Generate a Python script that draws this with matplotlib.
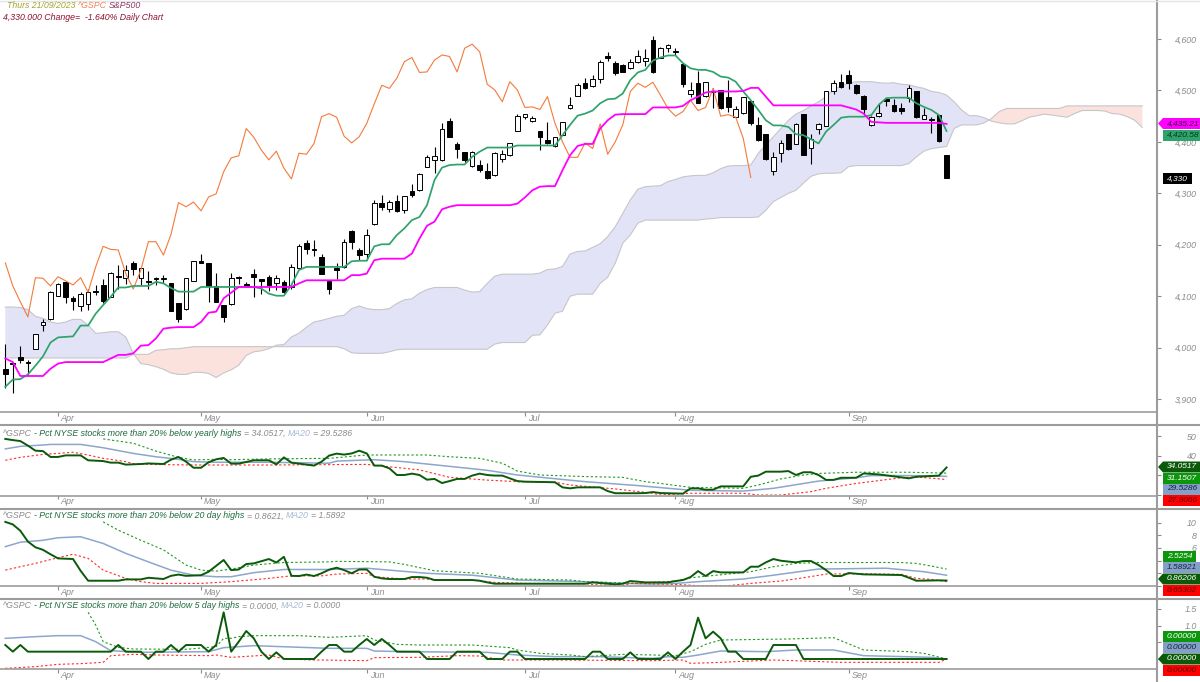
import numpy as np
from matplotlib import pyplot as plt
from matplotlib.patches import Polygon, Rectangle

plt.rcParams['font.family'] = ['Liberation Sans', 'DejaVu Sans']
plt.rcParams['font.style'] = 'italic'

# month ticks, in trading bars from the first candle
month_pos = [7, 26, 48, 69, 89, 112]
month_names = ['Apr', 'May', 'Jun', 'Jul', 'Aug', 'Sep']

opens = [3958, 3971, 3982, 3973, 3998, 4044, 4055, 4100, 4127, 4096,
         4081, 4085, 4110, 4122, 4099, 4140, 4135, 4164, 4136, 4130,
         4135, 4133, 4125, 4086, 4076, 4129, 4168, 4164, 4120, 4083,
         4085, 4138, 4123, 4143, 4133, 4138, 4126, 4127, 4118, 4155,
         4204, 4192, 4177, 4129, 4155, 4156, 4227, 4190, 4182, 4240,
         4282, 4269, 4285, 4267, 4305, 4306, 4352, 4365, 4365, 4441,
         4396, 4380, 4353, 4355, 4343, 4335, 4367, 4374, 4422, 4449,
         4440, 4422, 4404, 4392, 4413, 4465, 4490, 4515, 4509, 4522,
         4566, 4554, 4549, 4543, 4555, 4558, 4598, 4564, 4583, 4577,
         4551, 4494, 4514, 4489, 4499, 4501, 4487, 4449, 4457, 4479,
         4433, 4415, 4344, 4379, 4415, 4396, 4455, 4389, 4426, 4431,
         4498, 4516, 4530, 4510, 4490, 4432, 4451, 4483, 4472, 4466,
         4486, 4498, 4444, 4444, 4452, 4374]
closes = [3948, 3968, 3976, 3970, 4027, 4050, 4109, 4123, 4099, 4090,
          4105, 4109, 4108, 4090, 4146, 4138, 4151, 4153, 4154, 4127,
          4133, 4136, 4072, 4055, 4135, 4169, 4165, 4120, 4089, 4060,
          4136, 4135, 4120, 4138, 4130, 4122, 4136, 4108, 4157, 4197,
          4191, 4190, 4144, 4114, 4151, 4206, 4206, 4180, 4220, 4281,
          4273, 4284, 4266, 4295, 4297, 4337, 4370, 4372, 4426, 4409,
          4387, 4365, 4381, 4345, 4329, 4378, 4376, 4397, 4450, 4455,
          4446, 4410, 4397, 4409, 4439, 4472, 4510, 4504, 4522, 4555,
          4563, 4533, 4536, 4555, 4567, 4564, 4536, 4582, 4589, 4575,
          4512, 4501, 4476, 4517, 4497, 4465, 4467, 4463, 4488, 4436,
          4404, 4367, 4370, 4398, 4386, 4435, 4375, 4405, 4435, 4498,
          4514, 4506, 4515, 4496, 4463, 4449, 4457, 4480, 4460, 4461,
          4504, 4449, 4453, 4442, 4402, 4330]
highs = [4007, 3972, 4003, 3976, 4027, 4055, 4110, 4125, 4128, 4100,
         4109, 4115, 4122, 4133, 4147, 4160, 4160, 4168, 4157, 4149,
         4138, 4141, 4125, 4086, 4136, 4169, 4183, 4164, 4146, 4083,
         4146, 4139, 4128, 4153, 4133, 4141, 4141, 4131, 4162, 4201,
         4210, 4209, 4183, 4129, 4164, 4212, 4229, 4193, 4230, 4287,
         4297, 4287, 4297, 4295, 4319, 4339, 4374, 4391, 4437, 4446,
         4400, 4381, 4382, 4365, 4359, 4381, 4384, 4398, 4455, 4455,
         4450, 4422, 4439, 4410, 4439, 4487, 4515, 4525, 4530, 4560,
         4575, 4558, 4551, 4562, 4579, 4580, 4605, 4584, 4590, 4582,
         4551, 4517, 4538, 4517, 4504, 4501, 4520, 4470, 4488, 4479,
         4448, 4416, 4381, 4404, 4416, 4436, 4455, 4415, 4437, 4499,
         4520, 4532, 4540, 4512, 4491, 4450, 4475, 4486, 4483, 4475,
         4510, 4498, 4465, 4449, 4453, 4374]
lows = [3921, 3911, 3970, 3946, 3998, 4033, 4053, 4100, 4086, 4073,
        4072, 4073, 4102, 4087, 4098, 4115, 4123, 4141, 4122, 4115,
        4122, 4125, 4072, 4050, 4074, 4129, 4165, 4089, 4089, 4050,
        4083, 4123, 4118, 4099, 4104, 4110, 4113, 4107, 4114, 4154,
        4182, 4179, 4143, 4104, 4133, 4155, 4191, 4170, 4171, 4238,
        4267, 4264, 4264, 4262, 4293, 4305, 4352, 4339, 4363, 4409,
        4368, 4361, 4352, 4342, 4328, 4334, 4361, 4372, 4422, 4444,
        4439, 4385, 4396, 4391, 4413, 4464, 4489, 4502, 4507, 4515,
        4558, 4530, 4535, 4542, 4554, 4547, 4533, 4563, 4574, 4569,
        4507, 4488, 4475, 4488, 4465, 4463, 4459, 4448, 4455, 4433,
        4402, 4365, 4335, 4361, 4384, 4396, 4375, 4357, 4415, 4430,
        4494, 4505, 4502, 4494, 4452, 4431, 4449, 4470, 4459, 4454,
        4478, 4447, 4444, 4418, 4400, 4330]

tenkan = [3924, 3938, 3939, 3948, 3965, 3983, 4010, 4020, 4021, 4022,
          4043, 4043, 4066, 4083, 4099, 4117, 4117, 4120, 4120, 4120,
          4128, 4125, 4116, 4109, 4109, 4109, 4118, 4118, 4118, 4118,
          4118, 4118, 4118, 4118, 4115, 4105, 4101, 4101, 4122, 4151,
          4157, 4157, 4157, 4157, 4157, 4157, 4168, 4169, 4169, 4197,
          4201, 4201, 4219, 4232, 4248, 4254, 4277, 4326, 4350, 4355,
          4356, 4356, 4371, 4381, 4389, 4389, 4389, 4389, 4393, 4393,
          4393, 4393, 4393, 4393, 4413, 4433, 4451, 4455, 4461, 4475,
          4483, 4484, 4494, 4520, 4535, 4540, 4558, 4564, 4568, 4568,
          4553, 4543, 4540, 4540, 4536, 4527, 4525, 4517, 4498, 4481,
          4462, 4442, 4432, 4432, 4429, 4415, 4413, 4405, 4397, 4420,
          4433, 4447, 4449, 4449, 4449, 4452, 4472, 4485, 4486, 4486,
          4486, 4475, 4468, 4462, 4452, 4421]
kijun = [3979, 3972, 3945, 3945, 3945, 3945, 3959, 3969, 3972, 3972,
         3972, 3972, 3972, 3972, 3979, 3986, 3986, 3989, 4004, 4005,
         4018, 4037, 4039, 4040, 4040, 4040, 4050, 4068, 4070, 4096,
         4107, 4118, 4118, 4118, 4118, 4118, 4118, 4118, 4118, 4125,
         4131, 4131, 4131, 4131, 4131, 4131, 4141, 4141, 4144, 4170,
         4173, 4173, 4173, 4173, 4183, 4212, 4237, 4245, 4269, 4274,
         4277, 4277, 4277, 4277, 4277, 4277, 4277, 4277, 4280, 4292,
         4306, 4313, 4314, 4314, 4345, 4374, 4392, 4396, 4396, 4426,
         4442, 4453, 4454, 4454, 4454, 4454, 4467, 4467, 4467, 4467,
         4470, 4481, 4488, 4496, 4498, 4498, 4498, 4498, 4499, 4505,
         4505, 4488, 4471, 4471, 4471, 4471, 4471, 4471, 4471, 4471,
         4471, 4471, 4467, 4463, 4455, 4439, 4438, 4437, 4437, 4437,
         4437, 4437, 4437, 4437, 4437, 4435]
chikou = [4165, 4120, 4089, 4060, 4136, 4135, 4120, 4138, 4130, 4122,
          4136, 4108, 4157, 4197, 4191, 4190, 4144, 4114, 4151, 4206,
          4206, 4180, 4220, 4282, 4274, 4283, 4266, 4293, 4299, 4342,
          4369, 4373, 4426, 4409, 4384, 4365, 4382, 4349, 4328, 4378,
          4376, 4397, 4449, 4455, 4448, 4411, 4398, 4410, 4436, 4474,
          4510, 4504, 4524, 4556, 4564, 4535, 4536, 4559, 4569, 4566,
          4536, 4582, 4590, 4575, 4512, 4501, 4478, 4517, 4501, 4467,
          4468, 4463, 4488, 4436, 4400, 4370, 4370, 4398, 4387, 4435,
          4376, 4400, 4433, 4498, 4514, 4506, 4516, 4491, 4465, 4450,
          4459, 4481, 4461, 4467, 4504, 4450, 4453, 4448, 4407, 4331]

span_a = [4079, 4079, 4078, 4074, 4061, 4057, 4050, 4047, 4050, 4055,
          4055, 4044, 4028, 4029, 4031, 4031, 4021, 3989, 3969, 3967,
          3963, 3958, 3951, 3948, 3948, 3952, 3952, 3950, 3942, 3951,
          3957, 3966, 3985, 3992, 3994, 3998, 4005, 4006, 4021, 4028,
          4040, 4050, 4053, 4057, 4061, 4063, 4076, 4081, 4076, 4074,
          4074, 4076, 4086, 4093, 4095, 4106, 4113, 4117, 4117, 4117,
          4117, 4112, 4108, 4109, 4125, 4139, 4143, 4143, 4143, 4143,
          4143, 4145, 4152, 4153, 4158, 4182, 4187, 4188, 4195, 4202,
          4216, 4235, 4261, 4287, 4308, 4313, 4314, 4315, 4323, 4327,
          4332, 4334, 4335, 4335, 4340, 4348, 4353, 4354, 4354, 4355,
          4378, 4394, 4410, 4426, 4442, 4454, 4461, 4470, 4478, 4488,
          4502, 4509, 4514, 4517, 4517, 4517, 4515, 4514, 4515, 4512,
          4511, 4507, 4504, 4498, 4496, 4491, 4478, 4462, 4451, 4451,
          4447, 4440, 4437, 4435, 4435, 4441, 4448, 4451, 4454, 4452,
          4450, 4448, 4455, 4461, 4461, 4461, 4460, 4455, 4454, 4449,
          4442, 4428]
span_b = [3980, 3980, 3980, 3980, 3980, 3980, 3980, 3980, 3980, 3980,
          3980, 3980, 3980, 3980, 3980, 3980, 3980, 3987, 3987, 3987,
          3995, 3996, 3998, 3998, 4000, 4002, 4002, 4002, 4002, 4002,
          4002, 4002, 4002, 4002, 4002, 4002, 4002, 4002, 4002, 4002,
          4002, 4002, 4002, 4002, 4002, 3998, 3990, 3989, 3989, 3989,
          3989, 3992, 3996, 3997, 3997, 3997, 3997, 3997, 3997, 3997,
          3997, 3997, 3997, 3997, 3997, 4007, 4010, 4010, 4010, 4010,
          4024, 4025, 4044, 4067, 4071, 4100, 4104, 4104, 4104, 4125,
          4137, 4164, 4203, 4219, 4242, 4248, 4248, 4248, 4248, 4248,
          4248, 4248, 4248, 4250, 4251, 4253, 4253, 4253, 4253, 4253,
          4254, 4267, 4284, 4292, 4300, 4306, 4320, 4333, 4338, 4339,
          4339, 4340, 4352, 4354, 4354, 4354, 4354, 4354, 4354, 4354,
          4358, 4371, 4382, 4387, 4389, 4391, 4426, 4433, 4433, 4433,
          4437, 4446, 4459, 4465, 4465, 4465, 4465, 4465, 4465, 4465,
          4465, 4470, 4470, 4470, 4470, 4470, 4470, 4470, 4470, 4470,
          4470, 4470]

# yearly highs pane
y_line_x = [0, 1, 2, 3, 4, 5, 6, 7, 8, 10, 11, 13, 14, 15, 16, 18, 19, 21, 22, 23, 24, 25, 26, 27, 28, 29, 30, 31, 33, 35,
            36, 37, 38, 39, 40, 41, 42, 43, 44, 45, 46, 47, 48, 49, 50, 51, 52, 53, 54, 55, 56, 57, 58, 59, 60, 61, 62, 63,
            64, 65, 66, 67, 68, 69, 73, 74, 75, 76, 79, 80, 81, 84, 85, 86, 87, 90, 91, 92, 93, 94, 95, 98, 99, 100, 101,
            103, 104, 105, 106, 107, 108, 109, 110, 111, 113, 114, 116, 120, 121, 123, 124, 125]
y_line = [48.6, 48.0, 47.5, 45.2, 42.6, 42.4, 39.4, 39.4, 40.2, 40.2, 37.7, 37.3, 36.5, 36.5, 35.5, 35.8, 36.1, 35.8, 38.0, 39.4,
          37.0, 33.9, 33.9, 36.7, 38.2, 38.9, 36.0, 36.0, 37.7, 37.7, 35.6, 39.2, 36.5, 36.0, 35.5, 35.0, 37.0, 40.1, 41.1, 40.6,
          41.2, 42.6, 41.2, 35.0, 35.0, 33.6, 30.2, 30.2, 30.9, 30.2, 27.8, 28.2, 26.1, 27.1, 28.2, 28.2, 29.9, 30.9, 30.2, 29.9,
          29.9, 28.5, 27.1, 26.8, 26.5, 23.9, 23.4, 23.9, 23.9, 22.0, 20.9, 20.9, 21.0, 21.5, 21.0, 20.7, 23.4, 23.4, 22.7, 22.7,
          24.4, 24.4, 29.3, 29.9, 31.9, 31.9, 32.2, 30.2, 31.6, 31.6, 30.2, 27.7, 27.7, 28.8, 28.8, 31.0, 30.5, 28.5, 29.3, 29.7,
          29.9, 34.05]
y_ma_x = [0, 2, 5, 6, 10, 13, 17, 20, 23, 25, 28, 35, 43, 44, 49, 53, 58, 64, 68, 77, 84, 89, 91, 98, 102, 108, 113, 115, 120, 125]
y_ma = [43.5, 44.8, 45.5, 45.8, 45.8, 44.1, 41.2, 39.5, 38.2, 37.0, 36.7, 36.7, 36.2, 37.3, 38.0, 37.0, 35.0, 32.6, 30.2, 26.8,
        24.8, 23.1, 22.4, 22.0, 23.4, 27.1, 28.8, 29.9, 29.9, 29.5]
y_low_x = [0, 2, 5, 7, 9, 11, 13, 16, 17, 19, 25, 35, 48, 51, 55, 59, 64, 68, 73, 75, 81, 86, 87, 91, 98, 100, 103, 107, 109, 113, 119, 121, 125]
y_low = [37.7, 39.2, 40.7, 41.2, 41.8, 40.4, 38.7, 37.0, 36.0, 35.6, 35.3, 35.3, 35.6, 34.4, 32.8, 29.0, 27.6, 26.8, 26.5, 25.1,
         23.1, 20.9, 20.0, 20.9, 20.9, 20.0, 20.0, 21.7, 23.4, 25.9, 28.8, 29.2, 27.9]
y_up_x = [13, 17, 20, 23, 25, 28, 30, 35, 43, 44, 47, 48, 56, 59, 63, 66, 68, 71, 77, 82, 85, 87, 91, 98, 100, 103, 106, 108, 113, 120, 125]
y_up = [48.6, 46.4, 42.4, 39.2, 37.9, 38.2, 38.0, 38.4, 38.7, 39.0, 40.1, 40.4, 40.4, 39.5, 38.7, 36.2, 32.2, 30.2, 29.4, 29.0,
        26.8, 25.9, 23.9, 23.4, 25.1, 28.2, 30.2, 31.0, 31.6, 31.6, 31.15]

# 20 day highs pane
m_line_x = [0, 1, 2, 3, 4, 5, 6, 7, 9, 10, 11, 15, 16, 18, 19, 21, 22, 23, 24, 26, 27, 29, 30, 31, 32, 33, 35, 36, 37, 38,
            39, 40, 41, 42, 43, 44, 45, 46, 47, 48, 49, 50, 51, 53, 54, 55, 56, 57, 62, 63, 64, 65, 77, 78, 80, 81, 82, 83, 84,
            85, 88, 89, 90, 91, 92, 93, 94, 95, 98, 99, 100, 101, 102, 103, 105, 106, 107, 108, 109, 110, 111, 112, 114, 119, 120, 121, 124, 125]
m_line = [10.1, 9.7, 8.7, 7.0, 6.1, 5.7, 5.0, 4.35, 4.25, 2.4, 0.83, 0.83, 1.04, 1.04, 1.3, 1.1, 1.6, 1.8, 1.6, 1.7,
          2.25, 4.1, 2.5, 2.6, 3.46, 3.56, 4.25, 3.7, 4.6, 1.6, 1.57, 1.8, 1.57, 2.0, 2.57, 2.88, 2.5, 2.0, 2.6, 2.6,
          1.46, 1.2, 1.1, 1.1, 1.41, 1.41, 1.3, 0.94, 0.94, 0.83, 0.57, 0.36, 0.36, 0.57, 0.36, 0.26, 0.36, 0.78, 0.68,
          0.57, 0.57, 0.78, 0.94, 1.41, 2.35, 1.57, 2.35, 2.14, 2.14, 3.04, 3.04, 3.72, 4.25, 3.98, 3.72, 3.93, 3.93, 3.3, 2.5,
          1.57, 1.57, 2.04, 1.83, 1.73, 1.3, 0.83, 0.89, 0.86]
m_ma_x = [0, 2, 5, 7, 10, 13, 16, 19, 22, 25, 28, 30, 33, 37, 43, 48, 51, 56, 62, 68, 77, 82, 86, 89, 92, 98, 102, 108, 117, 122, 125]
m_ma = [6.2, 6.9, 7.2, 7.6, 7.76, 6.7, 5.14, 3.8, 2.5, 1.7, 1.46, 1.46, 2.1, 2.6, 2.6, 2.8, 2.5, 2.0, 1.7, 0.94, 0.68, 0.41, 0.31,
        0.41, 0.68, 1.1, 1.7, 2.67, 2.8, 2.25, 1.7]
m_low_x = [0, 2, 4, 7, 9, 11, 13, 16, 18, 20, 26, 30, 35, 38, 42, 44, 48, 49, 53, 56, 57, 62, 65, 69, 77, 79, 82, 83, 89, 92, 96, 99, 103, 106, 109, 113, 119, 121, 123, 125]
m_low = [2.5, 3.04, 3.56, 4.46, 5.0, 4.35, 2.5, 1.2, 0.68, 0.41, 0.41, 0.68, 1.2, 1.6, 1.6, 1.88, 2.0, 1.46, 1.1, 1.1, 0.94, 0.94,
         0.57, 0.41, 0.36, 0.15, 0.05, 0.41, 0.26, 0.05, 0.05, 0.41, 0.78, 1.3, 1.88, 1.93, 1.83, 1.2, 1.04, 0.68]
m_up_x = [13, 15, 18, 21, 24, 26, 28, 30, 33, 37, 43, 44, 51, 53, 57, 63, 68, 75, 77, 84, 89, 91, 96, 99, 102, 105, 108, 119, 121, 123, 125]
m_up = [10.1, 8.8, 7.2, 5.7, 3.3, 2.5, 2.35, 2.67, 3.3, 3.7, 3.8, 3.88, 3.8, 3.4, 2.4, 2.0, 1.1, 0.94, 0.68, 0.41, 0.78, 1.3,
        1.88, 2.25, 3.04, 3.56, 3.7, 3.7, 3.56, 3.14, 2.67]

# 5 day highs pane
w_line_x = [0, 1, 2, 3, 14, 15, 16, 18, 19, 20, 21, 22, 23, 24, 26, 27, 28, 29, 30, 31, 32, 33, 34, 35, 36, 37, 41, 42, 43, 44,
            45, 46, 47, 48, 49, 50, 51, 52, 55, 56, 59, 60, 63, 64, 66, 67, 68, 69, 77, 78, 79, 80, 82, 83, 84, 87, 88, 89, 90, 91,
            92, 93, 94, 95, 96, 97, 98, 101, 102, 105, 106, 125]
w_line = [0.42, 0.22, 0.42, 0.22, 0.22, 0.42, 0.22, 0.22, 0.0, 0.22, 0.22, 0.42, 0.22, 0.42, 0.42, 0.22, 0.42, 1.4, 0.22, 0.52,
          0.84, 0.62, 0.22, 0.0, 0.2, 0.0, 0.0, 0.22, 0.42, 0.42, 0.22, 0.22, 0.42, 0.6, 0.42, 0.6, 0.42, 0.22, 0.22, 0.0, 0.0,
          0.22, 0.22, 0.0, 0.0, 0.22, 0.22, 0.0, 0.0, 0.22, 0.22, 0.0, 0.0, 0.2, 0.0, 0.0, 0.2, 0.0, 0.22, 0.42, 1.24, 0.62, 0.82,
          0.62, 0.22, 0.22, 0.0, 0.0, 0.42, 0.42, 0.0, 0.0]
w_ma_x = [0, 4, 7, 10, 12, 14, 18, 27, 29, 33, 43, 48, 49, 53, 64, 68, 73, 79, 86, 88, 90, 92, 95, 101, 105, 110, 114, 123, 125]
w_ma = [0.62, 0.67, 0.7, 0.7, 0.52, 0.25, 0.2, 0.22, 0.34, 0.4, 0.32, 0.32, 0.24, 0.22, 0.2, 0.12, 0.07, 0.07, 0.02, 0.07, 0.05,
        0.12, 0.24, 0.22, 0.27, 0.27, 0.1, 0.05, 0.0]
w_low_x = [0, 4, 7, 10, 13, 14, 17, 20, 27, 28, 30, 35, 37, 41, 42, 48, 49, 55, 60, 63, 66, 73, 86, 90, 91, 94, 102, 111, 124, 125]
w_low = [-0.28, -0.23, -0.16, -0.14, -0.1, 0.1, 0.14, 0.12, 0.1, 0.12, 0.05, 0.12, 0.0, -0.03, -0.03, -0.05, 0.04, 0.05, 0.1, 0.09,
         -0.03, -0.03, -0.05, -0.03, -0.13, -0.11, -0.03, -0.1, -0.1, 0.0]
w_up_x = [11, 12, 13, 15, 17, 24, 28, 29, 30, 31, 33, 39, 43, 48, 49, 52, 55, 62, 67, 68, 71, 75, 77, 82, 86, 89, 91, 93, 95, 104, 110, 114, 120, 122, 125]
w_up = [1.4, 1.02, 0.52, 0.35, 0.3, 0.29, 0.37, 0.62, 0.62, 0.67, 0.7, 0.7, 0.65, 0.7, 0.57, 0.44, 0.42, 0.42, 0.34, 0.27, 0.17,
        0.12, 0.07, 0.14, 0.12, 0.1, 0.22, 0.44, 0.57, 0.6, 0.64, 0.27, 0.22, 0.17, 0.0]

main_ticks = [3900, 4000, 4100, 4200, 4300, 4400, 4500, 4600]
yearly_ticks = [20, 30, 40, 50]
yearly_labels = ['', '', '40', '50']
mid_ticks = [0, 2, 4, 6, 8, 10]
mid_labels = ['', '', '', '6', '8', '10']
week_ticks = [0, 0.5, 1.0, 1.5]
week_labels = ['', '', '1.0', '1.5']

GRAY = '#8c8c8c'
LINE = '#9c9c9c'
W, H = 1200, 682
BAR_PX = 7.53
FIRST_PX = 5.3


def px_axes(fig, top, bottom):
    ax = fig.add_axes([0, 1 - bottom / H, 1157 / W, (bottom - top) / H])
    ax.patch.set_alpha(0)
    for s in ax.spines.values():
        s.set_visible(False)
    ax.set_xlim(-FIRST_PX / BAR_PX, (1157 - FIRST_PX) / BAR_PX)
    ax.set_xticks(month_pos)
    ax.set_xticklabels([])
    ax.tick_params(axis='x', length=3, width=0.8, color=GRAY)
    for pos, name in zip(month_pos, month_names):
        ax.annotate(name, xy=(pos, 0), xycoords=ax.get_xaxis_transform(), xytext=(2, -1.5),
                    textcoords='offset points', va='top', ha='left', fontsize=6.5, color=GRAY)
    ax.yaxis.tick_right()
    return ax


def y_labels(ax, ticks, labels):
    ax.set_yticks(ticks)
    ax.set_yticklabels(labels, fontsize=6.4, color=GRAY, ha='right')
    ax.tick_params(axis='y', length=3, width=0.8, color=GRAY, pad=25.5)


def multi_text(over, renderer, x, y, parts, size=6.35, gap=2.2):
    for txt, col in parts:
        t = over.text(x, y, txt, color=col, fontsize=size, va='center', ha='left')
        x = t.get_window_extent(renderer).x1 + gap


def tag(over, y, txt, fc, tc, arrow=False, x1=1200):
    if arrow:
        over.add_patch(Polygon([(1158, y), (1163, y - 5.5), (x1, y - 5.5), (x1, y + 5.5), (1163, y + 5.5)], fc=fc, ec='none'))
    else:
        over.add_patch(Rectangle((1163, y - 5.5), x1 - 1163, 11, fc=fc, ec='none'))
    over.text(1167, y, txt, color=tc, fontsize=6.0, va='center', ha='left', clip_on=False)


def draw_pane(ax, line_x, line, ma_x, ma, low_x, low, up_x, up):
    ax.plot(ma_x, ma, color='#8da6cb', lw=1.1)
    ax.plot(up_x, up, color='#1f9a1f', lw=0.8, dashes=(2, 2))
    ax.plot(low_x, low, color='#ff2a2a', lw=0.8, dashes=(2, 2))
    ax.plot(line_x, line, color='#0a5a0a', lw=1.4)


fig = plt.figure(figsize=(12, 6.82), dpi=100)
fig.patch.set_facecolor('white')

# price pane
ax = px_axes(fig, 0, 412)
ax.set_ylim(3875, 4675.8)
cloud_x = np.arange(len(span_a))
a = np.array(span_a)
b = np.array(span_b)
ax.fill_between(cloud_x, a, b, where=a >= b, interpolate=True, color='#e2e3f6', lw=0)
ax.fill_between(cloud_x, a, b, where=a <= b, interpolate=True, color='#fbe2dc', lw=0)
ax.plot(cloud_x, a, color='#c6c6ca', lw=0.8)
ax.plot(cloud_x, b, color='#c6c6ca', lw=0.8)

bars = np.arange(len(opens))
ax.vlines(bars, lows, highs, color='black', lw=0.8, zorder=3)
o = np.array(opens)
c = np.array(closes)
up_bar = c >= o
ax.bar(bars[up_bar], (c - o)[up_bar], bottom=o[up_bar], width=0.62, color='white', edgecolor='black', lw=0.7, zorder=4)
ax.bar(bars[~up_bar], (o - c)[~up_bar], bottom=c[~up_bar], width=0.62, color='black', edgecolor='black', lw=0.7, zorder=4)

ax.plot(np.arange(len(chikou)), chikou, color='#f47a3a', lw=0.8, zorder=5)
ax.plot(bars, tenkan, color='#2ea36b', lw=1.25, zorder=6)
ax.plot(bars, kijun, color='#ff00ff', lw=1.3, zorder=6)
y_labels(ax, main_ticks, [f'{v:,}' for v in main_ticks])

# indicator panes
ax2 = px_axes(fig, 425, 495)
ax2.set_ylim(20, 55.7)
draw_pane(ax2, y_line_x, y_line, y_ma_x, y_ma, y_low_x, y_low, y_up_x, y_up)
y_labels(ax2, yearly_ticks, yearly_labels)

ax3 = px_axes(fig, 509, 586)
ax3.set_ylim(0, 12.13)
draw_pane(ax3, m_line_x, m_line, m_ma_x, m_ma, m_low_x, m_low, m_up_x, m_up)
y_labels(ax3, mid_ticks, mid_labels)

ax4 = px_axes(fig, 599, 669)
ax4.set_ylim(-0.3, 1.8)
draw_pane(ax4, w_line_x, w_line, w_ma_x, w_ma, w_low_x, w_low, w_up_x, w_up)
y_labels(ax4, week_ticks, week_labels)

# pixel overlay for frame lines, tags and headers
over = fig.add_axes([0, 0, 1, 1], zorder=10)
over.set_xlim(0, W)
over.set_ylim(H, 0)
over.axis('off')
over.plot([1157, 1157], [0, 681], color=LINE, lw=1.5)
over.plot([0, 1200], [0.5, 0.5], color='#e4e4e4', lw=1)
for y in [412, 495.5, 586, 669]:
    over.plot([0, 1157], [y, y], color=LINE, lw=1.2)
for y in [425, 508.5, 599]:
    over.plot([0, 1200], [y, y], color=LINE, lw=1.5)

tag(over, 123.5, '4,435.21', '#ff00ff', '#400040', arrow=True)
tag(over, 135, '4,420.58', '#2ea36b', '#06361f')
tag(over, 178.5, '4,330', 'black', 'white', x1=1192)

tag(over, 467, '34.0517', '#0a5a0a', 'white', arrow=True)
tag(over, 478, '31.1507', '#0b960b', 'white')
tag(over, 489, '29.5286', '#84a0c8', '#16233a')
tag(over, 500.5, '27.9066', '#ff0000', '#5a0000')

tag(over, 556, '2.5254', '#0b960b', 'white', x1=1196)
tag(over, 567.5, '1.58921', '#84a0c8', '#16233a')
tag(over, 579, '0.86206', '#0a5a0a', 'white', arrow=True)
tag(over, 590.5, '0.65302', '#ff0000', '#5a0000')

tag(over, 636, '0.00000', '#0b960b', 'white')
tag(over, 647.5, '0.00000', '#84a0c8', '#16233a')
tag(over, 659, '0.00000', '#0a5a0a', 'white', arrow=True)
tag(over, 670.5, '0.00000', '#ff0000', '#5a0000')

renderer = fig.canvas.get_renderer()
multi_text(over, renderer, 7, 6, [('Thurs 21/09/2023', '#a3a32e'), ('^GSPC', '#f2835a'), ('S&P500', '#8a3560')])
multi_text(over, renderer, 3, 18, [('4,330.000 Change=  -1.640% Daily Chart', '#8c1030')])

GREEN_T = '#1c6b3c'
MA_T = '#a5b8d4'
multi_text(over, renderer, 3, 433, [('^GSPC', GRAY), ('- Pct NYSE stocks more than 20% below yearly highs', GREEN_T),
                                    ('= 34.0517,', GRAY), ('MA20', MA_T), ('= 29.5286', GRAY)])
multi_text(over, renderer, 3, 516, [('^GSPC', GRAY), ('- Pct NYSE stocks more than 20% below 20 day highs', GREEN_T),
                                    ('= 0.8621,', GRAY), ('MA20', MA_T), ('= 1.5892', GRAY)])
multi_text(over, renderer, 3, 606, [('^GSPC', GRAY), ('- Pct NYSE stocks more than 20% below 5 day highs', GREEN_T),
                                    ('= 0.0000,', GRAY), ('MA20', MA_T), ('= 0.0000', GRAY)])

fig.savefig('out.png', dpi=100)
